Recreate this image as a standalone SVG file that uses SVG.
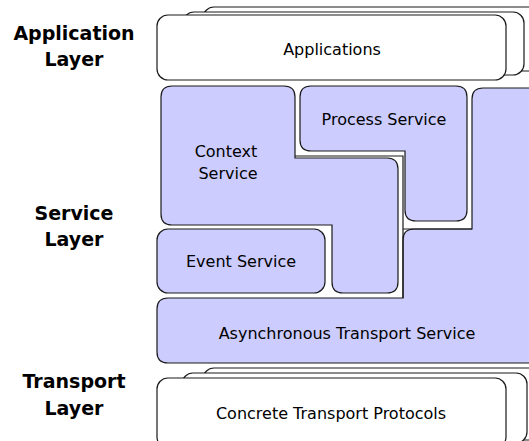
<svg xmlns="http://www.w3.org/2000/svg" width="529" height="441" viewBox="0 0 529 441">
  <style>
    .card { fill: #ffffff; stroke: #1a1a1a; stroke-width: 1.2; }
    .svc { fill: #ccccff; stroke: #1a1a1a; stroke-width: 1.2; stroke-linejoin: miter; }
    .edge { fill: none; stroke: #1a1a1a; stroke-width: 1.2; stroke-linejoin: miter; }
    .lbl { font-family: "DejaVu Sans", Verdana, sans-serif; font-size: 16px; fill: #000; text-anchor: middle; }
    .layer { font-family: "DejaVu Sans", Verdana, sans-serif; font-size: 19px; font-weight: bold; fill: #000; text-anchor: middle; }
  </style>

  <!-- layer captions -->
  <g id="layer-captions">
    <text class="layer" x="74" y="40">Application</text>
    <text class="layer" x="74" y="66">Layer</text>
    <text class="layer" x="74" y="220">Service</text>
    <text class="layer" x="74" y="246">Layer</text>
    <text class="layer" x="74" y="388">Transport</text>
    <text class="layer" x="74" y="415">Layer</text>
  </g>

  <!-- application layer: stacked cards -->
  <g id="applications">
    <rect class="card" x="203" y="7" width="345" height="64" rx="11"/>
    <rect class="card" x="183" y="12" width="341" height="63" rx="11"/>
    <rect class="card" x="157" y="15" width="349" height="65" rx="11"/>
    <text class="lbl" x="332" y="55">Applications</text>
  </g>

  <!-- service layer -->
  <g id="async-transport-service">
    <path class="svc" d="M157,309 Q157,298 168,298 L403,298 L403,240 Q403,229 414,229 L472,229 L472,99 Q472,88 483,88 L540,88 L540,363 L168,363 Q157,363 157,352 Z"/>
    <text class="lbl" x="347" y="339">Asynchronous Transport Service</text>
  </g>

  <!-- square-cornered slot edges around the inner blocks -->
  <g id="slot-edges">
    <path class="edge" d="M295,156 L403,156 L403,298"/>
    <path class="edge" d="M403,229 L472,229"/>
  </g>

  <g id="context-service">
    <path class="svc" d="M172,86 L284,86 Q295,86 295,97 L295,158 L387,158 Q398,158 398,169 L398,282 Q398,293 387,293 L343,293 Q332,293 332,282 L332,225 L172,225 Q161,225 161,214 L161,97 Q161,86 172,86 Z"/>
    <text class="lbl" x="226" y="157">Context</text>
    <text class="lbl" x="228" y="179">Service</text>
  </g>

  <g id="process-service">
    <path class="svc" d="M311,86 L456,86 Q467,86 467,97 L467,210 Q467,221 456,221 L416,221 Q405,221 405,210 L405,151 L311,151 Q300,151 300,140 L300,97 Q300,86 311,86 Z"/>
    <text class="lbl" x="384" y="125">Process Service</text>
  </g>

  <g id="event-service">
    <rect class="svc" x="157" y="229" width="168" height="64" rx="11"/>
    <text class="lbl" x="241" y="267">Event Service</text>
  </g>

  <!-- transport layer: stacked cards -->
  <g id="transport-protocols">
    <rect class="card" x="203" y="368" width="345" height="72" rx="11"/>
    <rect class="card" x="182" y="373" width="345" height="70" rx="11"/>
    <rect class="card" x="157" y="378" width="349" height="70" rx="11"/>
    <text class="lbl" x="331" y="419">Concrete Transport Protocols</text>
  </g>
</svg>
